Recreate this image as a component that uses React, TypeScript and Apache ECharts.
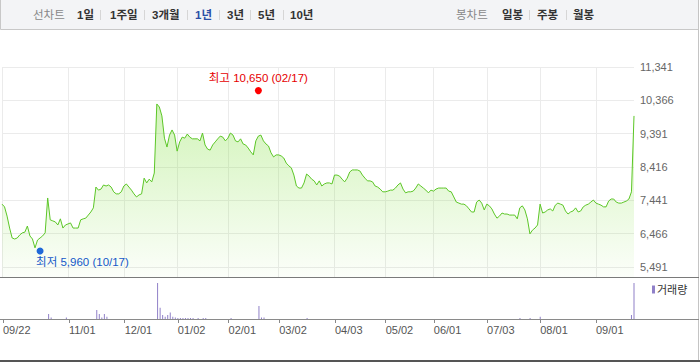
import React, { useEffect, useRef } from 'react';
import * as echarts from 'echarts';

const FONT = "'Liberation Sans', 'Noto Sans CJK KR', sans-serif";

// Daily closing prices (trading days 2016-09-22 .. 2017-09-21)
const prices = [
  7330, 7250, 6980, 6630, 6340, 6310, 6340, 6430, 6490, 6510,
  6690, 6400, 6310, 6050, 6280, 6340, 6400, 6490, 7510, 6870,
  6840, 6810, 6720, 6900, 6630, 6720, 6750, 6780, 6630, 6630,
  6630, 6870, 6900, 6920, 7010, 7100, 7220, 7830, 7740, 7770,
  7890, 7860, 7890, 7830, 7690, 7630, 7630, 7690, 7860, 7920,
  7830, 7740, 7630, 7540, 7600, 7630, 8090, 7950, 8060, 7980,
  8240, 10260, 10170, 9910, 9260, 9000, 9350, 9500, 9350, 8880,
  9150, 9290, 9260, 9380, 9290, 9240, 9240, 9240, 9180, 9410,
  9060, 8940, 8910, 9060, 9150, 9240, 9320, 9290, 9180, 9260,
  9410, 9350, 9180, 9150, 9240, 9090, 9060, 8970, 8860, 8770,
  9180, 9320, 9350, 9180, 9090, 9030, 8830, 8710, 8770, 8770,
  8740, 8680, 8530, 8450, 8390, 8180, 7860, 7800, 7800, 7950,
  8210, 8150, 8060, 8010, 7890, 8010, 7860, 7920, 7950, 7950,
  7920, 8180, 8180, 8150, 8060, 7980, 8090, 8270, 8330, 8330,
  8330, 8300, 8180, 8090, 8010, 8010, 7980, 7860, 7830, 7770,
  7690, 7690, 7710, 7740, 7740, 7800, 7890, 7950, 7770, 7660,
  7690, 7690, 7710, 7800, 7920, 7860, 7800, 7740, 7660, 7740,
  7710, 7770, 7800, 7800, 7800, 7800, 7710, 7690, 7540, 7390,
  7360, 7330, 7330, 7280, 7190, 7100, 7100, 7390, 7450, 7360,
  7160, 7330, 7280, 7190, 7040, 6920, 6980, 7070, 7040, 7040,
  7010, 7010, 7010, 6900, 7220, 7280, 7160, 6900, 6460, 6570,
  6630, 6720, 7330, 7070, 7100, 7160, 7190, 7130, 7300, 7360,
  7330, 7300, 7130, 7040, 7100, 7130, 7220, 7100, 7130, 7250,
  7300, 7330, 7390, 7450, 7360, 7330, 7300, 7250, 7250, 7420,
  7480, 7480, 7390, 7360, 7360, 7390, 7420, 7480, 7690, 9910,
];

// Volume (relative units): only visible bars listed, by trading-day index
const volIdx = [18, 19, 25, 37, 38, 39, 40, 41, 61, 62, 63, 64, 65, 66, 67, 68, 69, 70, 71, 72, 73, 74, 75, 77, 79, 80, 90, 101, 102, 103, 120, 204, 208, 212, 248, 249];
const volVal = [14, 4, 4, 25, 14, 4, 14, 6, 100, 31, 11, 6, 11, 18, 6, 4, 3, 3, 3, 3, 3, 3, 3, 3, 3, 3, 3, 36, 4, 4, 3, 3, 3, 6, 11, 100];

// X tick labels (trading-day index -> label)
const tickIdx = [0, 26, 48, 69, 89, 109, 131, 151, 170, 191, 212, 234];
const tickLabels = ['09/22', '11/01', '12/01', '01/02', '02/01', '03/02', '04/03', '05/02', '06/01', '07/03', '08/01', '09/01'];

// Y tick labels
const yTicks = [5491, 6466, 7441, 8416, 9391, 10366, 11341];

const high = { idx: 101, value: 10650, date: '02/17' };
const low = { idx: 15, value: 5960, date: '10/17' };

const lineTypeLabel = '선차트';
const periodItems = ['1일', '1주일', '3개월', '1년', '3년', '5년', '10년'];
const selectedPeriod = '1년';
const candleTypeLabel = '봉차트';
const candleItems = ['일봉', '주봉', '월봉'];

// layout of toolbar
const periodX = [77, 110, 152, 195, 227, 258, 290];
const periodSepX = [100.5, 144.5, 187.5, 219.5, 250.5, 283.5];
const candleX = [502, 537, 573];
const candleSepX = [529.5, 566.5];

const fmt = (v: number) => Number(v).toLocaleString('en-US');

export default function App() {
  const ref = useRef<HTMLDivElement>(null);

  useEffect(() => {
    document.body.style.margin = '0';
    const chart = echarts.init(ref.current!, undefined, { renderer: 'svg' });

    const cats = prices.map((_, i) => String(i));
    const volumes: number[] = prices.map(() => 0);
    volIdx.forEach((i, k) => {
      volumes[i] = volVal[k];
    });
    const isTick = (i: number) => tickIdx.indexOf(i) >= 0;
    const yMin = yTicks[0] - 0.3 * (yTicks[1] - yTicks[0]);

    const graphic: any[] = [
      {
        type: 'rect', z: 20,
        shape: { x: 0.5, y: -0.5, width: 698, height: 30 },
        style: { fill: '#f3f4f6', stroke: '#c8c8c8', lineWidth: 1 },
      },
      { type: 'line', z: 20, shape: { x1: 698.5, y1: 0, x2: 698.5, y2: 362 }, style: { stroke: '#c4c4c4', lineWidth: 1 } },
      { type: 'line', z: 20, shape: { x1: 0, y1: 277.5, x2: 699, y2: 277.5 }, style: { stroke: '#7a7a7a', lineWidth: 1 } },
      { type: 'line', z: 20, shape: { x1: 0, y1: 319.5, x2: 699, y2: 319.5 }, style: { stroke: '#8a8a8a', lineWidth: 1 } },
      { type: 'rect', z: 20, shape: { x: 0, y: 360, width: 700, height: 2 }, style: { fill: '#555' } },
      {
        type: 'text', z: 21, x: 33, y: 15,
        style: { text: lineTypeLabel, fill: '#888', fontSize: 11.5, fontFamily: FONT, verticalAlign: 'middle' },
      },
      {
        type: 'text', z: 21, x: 456, y: 15,
        style: { text: candleTypeLabel, fill: '#888', fontSize: 11.5, fontFamily: FONT, verticalAlign: 'middle' },
      },
    ];
    periodItems.forEach((t, k) => {
      graphic.push({
        type: 'text', z: 21, x: periodX[k], y: 15,
        style: {
          text: t, fill: t === selectedPeriod ? '#2b4fa6' : '#333', fontSize: 11.5, fontWeight: 'bold',
          fontFamily: FONT, verticalAlign: 'middle',
        },
      });
    });
    candleItems.forEach((t, k) => {
      graphic.push({
        type: 'text', z: 21, x: candleX[k], y: 15,
        style: { text: t, fill: '#333', fontSize: 11.5, fontWeight: 'bold', fontFamily: FONT, verticalAlign: 'middle' },
      });
    });
    [...periodSepX, ...candleSepX].forEach((x) => {
      graphic.push({ type: 'line', z: 21, shape: { x1: x, y1: 10, x2: x, y2: 20 }, style: { stroke: '#d6d6d6', lineWidth: 1 } });
    });

    chart.setOption({
      animation: false,
      textStyle: { fontFamily: FONT },
      legend: {
        data: ['거래량'], left: 652, top: 284, icon: 'rect', itemWidth: 3, itemHeight: 8, padding: 0,
        selectedMode: false,
        textStyle: { fontSize: 11, color: '#333', fontFamily: FONT, padding: [0, 0, 0, -3] },
      },
      grid: [
        { left: 2, top: 67, width: 632, height: 210 },
        { left: 2, top: 277, width: 632, height: 42 },
      ],
      xAxis: [
        {
          type: 'category', gridIndex: 0, data: cats, boundaryGap: false,
          axisLine: { show: false }, axisTick: { show: false }, axisLabel: { show: false },
          splitLine: { show: true, interval: (i: number) => isTick(i), lineStyle: { color: '#ebebeb', width: 1 } },
        },
        {
          type: 'category', gridIndex: 1, data: cats, boundaryGap: false,
          axisLine: { show: false },
          axisTick: { show: true, interval: (i: number) => isTick(i), length: 4, lineStyle: { color: '#888' } },
          axisLabel: {
            show: true, interval: (i: number) => isTick(i), align: 'left', margin: 5,
            color: '#555', fontSize: 11, fontFamily: FONT,
            formatter: (_v: string, i: number) => {
              const k = tickIdx.indexOf(i);
              return k >= 0 ? tickLabels[k] : '';
            },
          },
          splitLine: { show: false },
        },
      ],
      yAxis: [
        {
          type: 'value', gridIndex: 0, min: yMin, max: yTicks[yTicks.length - 1],
          axisLine: { show: false }, axisTick: { show: false }, axisLabel: { show: false }, splitLine: { show: false },
        },
        {
          type: 'value', gridIndex: 1, min: 0, max: 117,
          axisLine: { show: false }, axisTick: { show: false }, axisLabel: { show: false }, splitLine: { show: false },
        },
      ],
      series: [
        {
          name: '주가', type: 'line', xAxisIndex: 0, yAxisIndex: 0, data: prices, symbol: 'none',
          lineStyle: { color: '#5cc627', width: 1 }, itemStyle: { color: '#5cc627' },
          areaStyle: {
            origin: 'start',
            color: new echarts.graphic.LinearGradient(0, 0, 0, 1, [
              { offset: 0, color: 'rgba(125,222,55,0.5)' },
              { offset: 1, color: 'rgba(125,222,55,0.04)' },
            ]),
          },
          markLine: {
            silent: true, z: 1, symbol: ['none', 'none'],
            lineStyle: { color: '#ebebeb', width: 1, type: 'solid' },
            label: {
              show: true, position: 'end', distance: 6, color: '#666', fontSize: 11, fontFamily: FONT,
              formatter: (p: any) => fmt(p.value),
            },
            emphasis: { disabled: true },
            data: yTicks.map((v) => ({ yAxis: v })),
          },
          markPoint: {
            silent: true, symbol: 'circle', symbolSize: 7,
            data: [
              {
                coord: [String(high.idx), high.value], itemStyle: { color: '#ff0000' },
                label: {
                  show: true, position: 'top', distance: 3, color: '#e60000', fontSize: 11.5, fontFamily: FONT,
                  formatter: `최고 ${fmt(high.value)} (${high.date})`,
                },
              },
              {
                coord: [String(low.idx), low.value], itemStyle: { color: '#1f68d8' },
                label: {
                  show: true, position: 'bottom', align: 'left', offset: [-4, 0], distance: 2,
                  color: '#1458c8', fontSize: 11.5, fontFamily: FONT,
                  formatter: `최저 ${fmt(low.value)} (${low.date})`,
                },
              },
            ],
          },
        },
        {
          name: '거래량', type: 'bar', xAxisIndex: 1, yAxisIndex: 1, data: volumes, barWidth: 1,
          itemStyle: { color: '#9080c8' },
        },
      ],
      graphic,
    });

    return () => chart.dispose();
  }, []);

  return <div ref={ref} style={{ width: 700, height: 362 }} />;
}
